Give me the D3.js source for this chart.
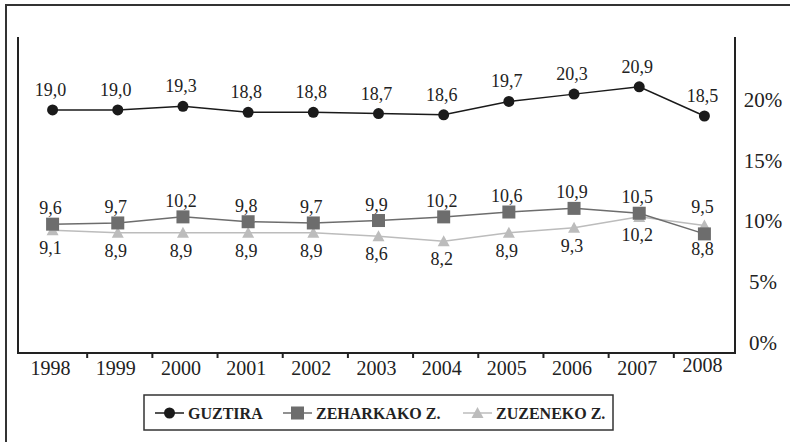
<!DOCTYPE html>
<html>
<head>
<meta charset="utf-8">
<script src="https://cdn.jsdelivr.net/npm/d3@7"></script>
<style>
  body { margin: 0; background: #fff; }
  svg { display: block; font-family: "Liberation Serif", "DejaVu Serif", serif; }
</style>
</head>
<body>
<svg id="chart"></svg>
<script>
// years and the three series (percent)
var years = ["1998", "1999", "2000", "2001", "2002", "2003", "2004", "2005", "2006", "2007", "2008"];
var guztira = [19.0, 19.0, 19.3, 18.8, 18.8, 18.7, 18.6, 19.7, 20.3, 20.9, 18.5];
var zeharkako = [9.6, 9.7, 10.2, 9.8, 9.7, 9.9, 10.2, 10.6, 10.9, 10.5, 8.8];
var zuzeneko = [9.1, 8.9, 8.9, 8.9, 8.9, 8.6, 8.2, 8.9, 9.3, 10.2, 9.5];
var yTicks = [0, 5, 10, 15, 20];
var legendLabels = ["GUZTIRA", "ZEHARKAKO Z.", "ZUZENEKO Z."];

var width = 790, height = 442;
// plot area edges (note: "top" is reserved on window, so use prefixed names)
var plotLeft = 18, plotRight = 735, plotTop = 37, plotBottom = 353;

var svg = d3.select("#chart")
  .attr("width", width)
  .attr("height", height);

// outer frame (runs off the right/bottom edges)
svg.append("rect")
  .attr("x", 6).attr("y", 5)
  .attr("width", 800).attr("height", 450)
  .attr("fill", "none")
  .attr("stroke", "#333")
  .attr("stroke-width", 2);

var x = d3.scaleBand().domain(years).range([20, 737]);
var y = d3.scaleLinear().domain([-1, 25]).range([plotBottom, plotTop]);

var fmt = d => d.toFixed(1).replace(".", ",");

// plot frame: left, right and bottom lines
svg.append("path")
  .attr("d", "M" + plotLeft + "," + plotTop + "V" + plotBottom + "H" + plotRight + "V" + plotTop)
  .attr("fill", "none")
  .attr("stroke", "#222")
  .attr("stroke-width", 2);

// tick marks between categories
svg.append("g")
  .selectAll("line")
  .data(years.slice(1))
  .enter().append("line")
  .attr("x1", d => x(d) + 2)
  .attr("x2", d => x(d) + 2)
  .attr("y1", plotBottom)
  .attr("y2", plotBottom + 5)
  .attr("stroke", "#222")
  .attr("stroke-width", 2);

// year labels
svg.append("g")
  .selectAll("text")
  .data(years)
  .enter().append("text")
  .attr("x", d => x(d) + x.bandwidth() / 2 - 2)
  .attr("y", (d, i) => i == years.length - 1 ? 372 : 375)
  .attr("text-anchor", "middle")
  .style("font-size", "20px")
  .style("fill", "#222")
  .text(d => d);

// right axis labels
svg.append("g")
  .selectAll("text")
  .data(yTicks)
  .enter().append("text")
  .attr("x", 763)
  .attr("y", d => y(d) + 9)
  .attr("text-anchor", "middle")
  .style("font-size", "21px")
  .style("fill", "#222")
  .text(d => d + "%");

var series = [
  {name: legendLabels[0], values: guztira, color: "#1a1a1a", shape: "circle", labelDy: d => -20},
  {name: legendLabels[1], values: zeharkako, color: "#6d6d6d", shape: "square", labelDy: (d, i) => i == 10 ? 15 : -16},
  {name: legendLabels[2], values: zuzeneko, color: "#bcbcbc", shape: "triangle", labelDy: (d, i) => i == 10 ? -18 : 18}
];

var cx = i => x(years[i]) + x.bandwidth() / 2;

function marker(g, shape, color) {
  if (shape == "circle") {
    g.append("circle").attr("r", 5.5).attr("fill", color);
  } else if (shape == "square") {
    g.append("rect").attr("x", -6.5).attr("y", -6.5).attr("width", 13).attr("height", 13).attr("fill", color);
  } else {
    g.append("path").attr("d", "M0,-6L6,5H-6Z").attr("fill", color);
  }
}

var line = d3.line().x((d, i) => cx(i)).y(d => y(d));

// draw light series first so the darker ones sit on top
series.slice().reverse().forEach(function (s) {
  var g = svg.append("g");
  g.append("path")
    .datum(s.values)
    .attr("d", line)
    .attr("fill", "none")
    .attr("stroke", s.color)
    .attr("stroke-width", 1.5);

  g.selectAll("g.pt")
    .data(s.values)
    .enter().append("g")
    .attr("class", "pt")
    .attr("transform", (d, i) => "translate(" + cx(i) + "," + y(d) + ")")
    .each(function () { marker(d3.select(this), s.shape, s.color); });

  g.selectAll("text")
    .data(s.values)
    .enter().append("text")
    .attr("x", (d, i) => cx(i) - 2)
    .attr("y", (d, i) => y(d) + s.labelDy(d, i) + 6)
    .attr("text-anchor", "middle")
    .style("font-size", "18px")
    .style("fill", "#222")
    .text(fmt);
});

// legend
var legend = svg.append("g");
legend.append("rect")
  .attr("x", 144).attr("y", 395)
  .attr("width", 469).attr("height", 35)
  .attr("fill", "#fff")
  .attr("stroke", "#333")
  .attr("stroke-width", 1.5);

var legendX = [155, 283, 463];
series.forEach(function (s, i) {
  var lg = legend.append("g").attr("transform", "translate(" + legendX[i] + ",413)");
  lg.append("line")
    .attr("x1", 0).attr("x2", 29)
    .attr("stroke", s.color)
    .attr("stroke-width", 1.5);
  var m = lg.append("g").attr("transform", "translate(14.5,0)");
  marker(m, s.shape, s.color);
  lg.append("text")
    .attr("x", 33)
    .attr("y", 6)
    .style("font-size", "16px")
    .style("font-weight", "bold")
    .style("fill", "#222")
    .text(s.name);
});
</script>
</body>
</html>
